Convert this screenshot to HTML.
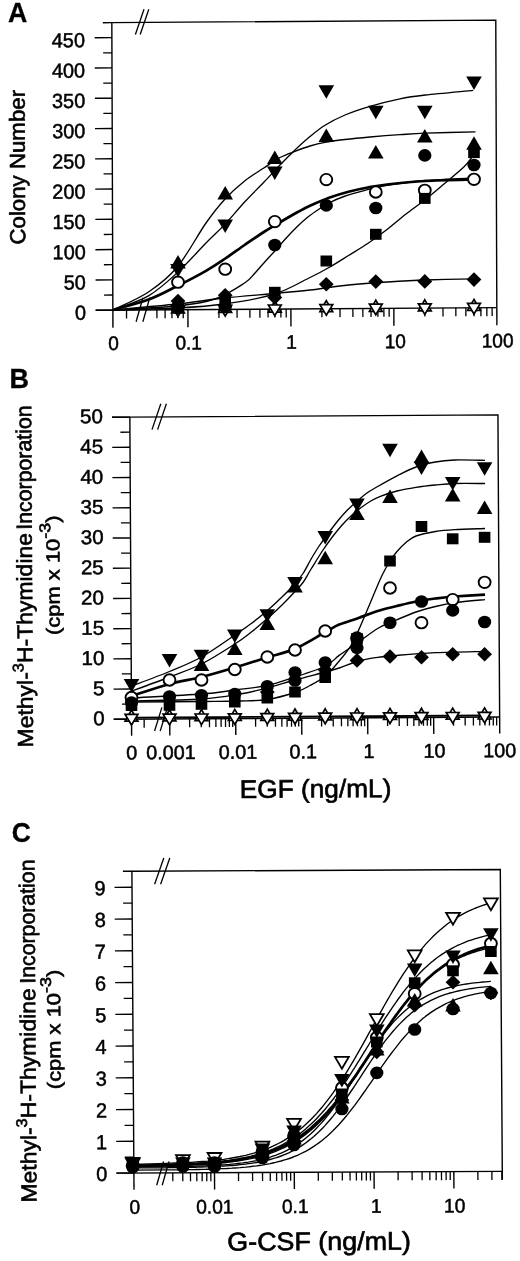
<!DOCTYPE html>
<html><head><meta charset="utf-8"><title>Figure</title>
<style>html,body{margin:0;padding:0;background:#fff}svg{display:block;filter:grayscale(1)}</style></head>
<body>
<svg width="520" height="1261" viewBox="0 0 520 1261" font-family='"Liberation Sans", sans-serif' fill="#000">
<rect width="520" height="1261" fill="#fff"/>
<g transform="matrix(1,-0.00660,0.00360,1,-0.598,2.013)">
<path d="M112.35,308.85V21.35H496.3V308.85" fill="none" stroke="#000" stroke-width="1.4"/>
<line x1="95.15" y1="308.85" x2="496.30" y2="308.85" stroke="#000" stroke-width="1.4"/>
<line x1="103.35" y1="21.35" x2="112.35" y2="21.35" stroke="#000" stroke-width="1.4"/>
<line x1="95.15" y1="308.85" x2="112.35" y2="308.85" stroke="#000" stroke-width="1.4"/>
<text transform="translate(85.40,318.25) scale(0.975,1)" font-size="20.4" text-anchor="end" font-weight="normal" stroke="#000" stroke-width="0.5">0</text>
<line x1="103.55" y1="293.71" x2="112.35" y2="293.71" stroke="#000" stroke-width="1.3"/>
<line x1="95.15" y1="278.58" x2="112.35" y2="278.58" stroke="#000" stroke-width="1.4"/>
<text transform="translate(85.40,287.98) scale(0.975,1)" font-size="20.4" text-anchor="end" font-weight="normal" stroke="#000" stroke-width="0.5">50</text>
<line x1="103.55" y1="263.44" x2="112.35" y2="263.44" stroke="#000" stroke-width="1.3"/>
<line x1="95.15" y1="248.30" x2="112.35" y2="248.30" stroke="#000" stroke-width="1.4"/>
<text transform="translate(85.40,257.70) scale(0.975,1)" font-size="20.4" text-anchor="end" font-weight="normal" stroke="#000" stroke-width="0.5">100</text>
<line x1="103.55" y1="233.16" x2="112.35" y2="233.16" stroke="#000" stroke-width="1.3"/>
<line x1="95.15" y1="218.03" x2="112.35" y2="218.03" stroke="#000" stroke-width="1.4"/>
<text transform="translate(85.40,227.43) scale(0.975,1)" font-size="20.4" text-anchor="end" font-weight="normal" stroke="#000" stroke-width="0.5">150</text>
<line x1="103.55" y1="202.89" x2="112.35" y2="202.89" stroke="#000" stroke-width="1.3"/>
<line x1="95.15" y1="187.75" x2="112.35" y2="187.75" stroke="#000" stroke-width="1.4"/>
<text transform="translate(85.40,197.15) scale(0.975,1)" font-size="20.4" text-anchor="end" font-weight="normal" stroke="#000" stroke-width="0.5">200</text>
<line x1="103.55" y1="172.61" x2="112.35" y2="172.61" stroke="#000" stroke-width="1.3"/>
<line x1="95.15" y1="157.48" x2="112.35" y2="157.48" stroke="#000" stroke-width="1.4"/>
<text transform="translate(85.40,166.88) scale(0.975,1)" font-size="20.4" text-anchor="end" font-weight="normal" stroke="#000" stroke-width="0.5">250</text>
<line x1="103.55" y1="142.34" x2="112.35" y2="142.34" stroke="#000" stroke-width="1.3"/>
<line x1="95.15" y1="127.20" x2="112.35" y2="127.20" stroke="#000" stroke-width="1.4"/>
<text transform="translate(85.40,136.60) scale(0.975,1)" font-size="20.4" text-anchor="end" font-weight="normal" stroke="#000" stroke-width="0.5">300</text>
<line x1="103.55" y1="112.06" x2="112.35" y2="112.06" stroke="#000" stroke-width="1.3"/>
<line x1="95.15" y1="96.93" x2="112.35" y2="96.93" stroke="#000" stroke-width="1.4"/>
<text transform="translate(85.40,106.33) scale(0.975,1)" font-size="20.4" text-anchor="end" font-weight="normal" stroke="#000" stroke-width="0.5">350</text>
<line x1="103.55" y1="81.79" x2="112.35" y2="81.79" stroke="#000" stroke-width="1.3"/>
<line x1="95.15" y1="66.65" x2="112.35" y2="66.65" stroke="#000" stroke-width="1.4"/>
<text transform="translate(85.40,76.05) scale(0.975,1)" font-size="20.4" text-anchor="end" font-weight="normal" stroke="#000" stroke-width="0.5">400</text>
<line x1="103.55" y1="51.51" x2="112.35" y2="51.51" stroke="#000" stroke-width="1.3"/>
<line x1="95.15" y1="36.38" x2="112.35" y2="36.38" stroke="#000" stroke-width="1.4"/>
<text transform="translate(85.40,45.77) scale(0.975,1)" font-size="20.4" text-anchor="end" font-weight="normal" stroke="#000" stroke-width="0.5">450</text>
<text transform="translate(24.90,165.40) rotate(-90) scale(1.0216,1)" font-size="21.8" text-anchor="middle" stroke="#000" stroke-width="0.6">Colony Number</text>
<line x1="112.35" y1="308.85" x2="112.35" y2="326.45" stroke="#000" stroke-width="1.4"/>
<line x1="126.00" y1="308.85" x2="126.00" y2="317.35" stroke="#000" stroke-width="1.3"/>
<line x1="156.40" y1="308.85" x2="156.40" y2="317.35" stroke="#000" stroke-width="1.3"/>
<line x1="164.56" y1="308.85" x2="164.56" y2="317.35" stroke="#000" stroke-width="1.3"/>
<line x1="171.45" y1="308.85" x2="171.45" y2="317.35" stroke="#000" stroke-width="1.3"/>
<line x1="177.42" y1="308.85" x2="177.42" y2="317.35" stroke="#000" stroke-width="1.3"/>
<line x1="182.69" y1="308.85" x2="182.69" y2="317.35" stroke="#000" stroke-width="1.3"/>
<line x1="187.40" y1="308.85" x2="187.40" y2="326.45" stroke="#000" stroke-width="1.4"/>
<line x1="218.40" y1="308.85" x2="218.40" y2="317.35" stroke="#000" stroke-width="1.3"/>
<line x1="236.53" y1="308.85" x2="236.53" y2="317.35" stroke="#000" stroke-width="1.3"/>
<line x1="249.39" y1="308.85" x2="249.39" y2="317.35" stroke="#000" stroke-width="1.3"/>
<line x1="259.37" y1="308.85" x2="259.37" y2="317.35" stroke="#000" stroke-width="1.3"/>
<line x1="267.53" y1="308.85" x2="267.53" y2="317.35" stroke="#000" stroke-width="1.3"/>
<line x1="274.42" y1="308.85" x2="274.42" y2="317.35" stroke="#000" stroke-width="1.3"/>
<line x1="280.39" y1="308.85" x2="280.39" y2="317.35" stroke="#000" stroke-width="1.3"/>
<line x1="285.66" y1="308.85" x2="285.66" y2="317.35" stroke="#000" stroke-width="1.3"/>
<line x1="290.37" y1="308.85" x2="290.37" y2="326.45" stroke="#000" stroke-width="1.4"/>
<line x1="321.37" y1="308.85" x2="321.37" y2="317.35" stroke="#000" stroke-width="1.3"/>
<line x1="339.50" y1="308.85" x2="339.50" y2="317.35" stroke="#000" stroke-width="1.3"/>
<line x1="352.36" y1="308.85" x2="352.36" y2="317.35" stroke="#000" stroke-width="1.3"/>
<line x1="362.34" y1="308.85" x2="362.34" y2="317.35" stroke="#000" stroke-width="1.3"/>
<line x1="370.50" y1="308.85" x2="370.50" y2="317.35" stroke="#000" stroke-width="1.3"/>
<line x1="377.39" y1="308.85" x2="377.39" y2="317.35" stroke="#000" stroke-width="1.3"/>
<line x1="383.36" y1="308.85" x2="383.36" y2="317.35" stroke="#000" stroke-width="1.3"/>
<line x1="388.63" y1="308.85" x2="388.63" y2="317.35" stroke="#000" stroke-width="1.3"/>
<line x1="393.34" y1="308.85" x2="393.34" y2="326.45" stroke="#000" stroke-width="1.4"/>
<line x1="424.34" y1="308.85" x2="424.34" y2="317.35" stroke="#000" stroke-width="1.3"/>
<line x1="442.47" y1="308.85" x2="442.47" y2="317.35" stroke="#000" stroke-width="1.3"/>
<line x1="455.33" y1="308.85" x2="455.33" y2="317.35" stroke="#000" stroke-width="1.3"/>
<line x1="465.31" y1="308.85" x2="465.31" y2="317.35" stroke="#000" stroke-width="1.3"/>
<line x1="473.47" y1="308.85" x2="473.47" y2="317.35" stroke="#000" stroke-width="1.3"/>
<line x1="480.36" y1="308.85" x2="480.36" y2="317.35" stroke="#000" stroke-width="1.3"/>
<line x1="486.33" y1="308.85" x2="486.33" y2="317.35" stroke="#000" stroke-width="1.3"/>
<line x1="491.60" y1="308.85" x2="491.60" y2="317.35" stroke="#000" stroke-width="1.3"/>
<line x1="496.31" y1="308.85" x2="496.31" y2="326.45" stroke="#000" stroke-width="1.4"/>
<text transform="translate(113.00,348.65) scale(0.98,1)" font-size="19.5" text-anchor="middle" font-weight="normal" stroke="#000" stroke-width="0.5">0</text>
<text transform="translate(188.00,348.65) scale(0.98,1)" font-size="19.5" text-anchor="middle" font-weight="normal" stroke="#000" stroke-width="0.5">0.1</text>
<text transform="translate(290.80,348.65) scale(0.98,1)" font-size="19.5" text-anchor="middle" font-weight="normal" stroke="#000" stroke-width="0.5">1</text>
<text transform="translate(394.60,348.65) scale(0.98,1)" font-size="19.5" text-anchor="middle" font-weight="normal" stroke="#000" stroke-width="0.5">10</text>
<text transform="translate(497.00,348.65) scale(0.98,1)" font-size="19.5" text-anchor="middle" font-weight="normal" stroke="#000" stroke-width="0.5">100</text>
</g>
<text transform="translate(8.10,21.70) scale(0.99,1)" font-size="27" text-anchor="start" font-weight="bold" stroke="#000" stroke-width="0.3">A</text>
<line x1="136.10" y1="321.70" x2="142.90" y2="297.70" stroke="#000" stroke-width="1.3"/>
<line x1="142.90" y1="321.70" x2="149.70" y2="297.70" stroke="#000" stroke-width="1.3"/>
<line x1="135.40" y1="34.50" x2="144.00" y2="9.20" stroke="#000" stroke-width="1.3"/>
<line x1="140.20" y1="34.50" x2="148.80" y2="9.20" stroke="#000" stroke-width="1.3"/>
<path d="M113.0,310.0C118.9,307.0 137.8,299.2 148.5,292.0C159.2,284.8 167.7,278.5 177.3,267.0C186.9,255.5 198.1,234.2 206.0,223.0C213.9,211.8 218.2,206.5 224.6,199.5C231.0,192.5 238.1,186.2 244.6,181.0C251.1,175.8 257.9,171.9 263.8,168.0C269.7,164.1 274.8,160.3 280.0,157.5C285.2,154.7 290.0,153.2 295.0,151.3C300.0,149.4 305.0,147.5 310.0,146.0C315.0,144.5 319.2,143.4 325.0,142.3C330.8,141.2 337.5,140.4 345.0,139.5C352.5,138.6 360.8,137.8 370.0,137.0C379.2,136.2 390.8,135.3 400.0,134.7C409.2,134.1 412.8,133.7 425.4,133.2C438.0,132.7 467.1,132.0 475.5,131.8" fill="none" stroke="#000" stroke-width="1.35" stroke-linecap="butt" stroke-linejoin="round"/>
<path d="M113.0,310.0C118.9,307.6 137.8,302.0 148.5,295.8C159.2,289.6 167.7,281.5 177.3,272.7C186.9,263.9 198.1,251.0 206.0,243.0C213.9,235.0 218.2,231.4 224.6,224.6C231.0,217.8 238.1,209.1 244.6,202.0C251.1,194.9 257.9,188.5 263.8,182.3C269.7,176.1 274.8,170.4 280.0,165.0C285.2,159.6 290.0,154.8 295.0,150.0C300.0,145.2 305.0,140.6 310.0,136.5C315.0,132.4 319.2,128.8 325.0,125.2C330.8,121.6 337.5,118.2 345.0,115.0C352.5,111.8 360.8,109.0 370.0,106.3C379.2,103.6 390.8,100.7 400.0,98.8C409.2,96.9 413.2,96.4 425.4,95.0C437.6,93.6 465.2,91.2 473.2,90.4" fill="none" stroke="#000" stroke-width="1.35" stroke-linecap="butt" stroke-linejoin="round"/>
<path d="M113.0,310.0C118.9,308.3 137.8,303.6 148.5,299.6C159.2,295.6 167.7,290.8 177.3,286.0C186.9,281.2 198.1,275.3 206.0,270.8C213.9,266.3 218.2,263.3 224.6,259.0C231.0,254.7 238.1,249.5 244.6,245.0C251.1,240.5 257.4,236.1 263.8,232.0C270.2,227.9 277.4,223.8 283.0,220.5C288.6,217.2 292.8,214.8 297.3,212.3C301.8,209.9 304.7,208.2 310.0,205.8C315.3,203.4 322.6,200.1 329.0,197.8C335.4,195.5 342.1,193.5 348.5,191.8C354.9,190.1 361.3,188.7 367.7,187.5C374.1,186.3 377.4,185.6 387.0,184.5C396.6,183.4 410.9,181.8 425.4,181.0C439.9,180.2 465.9,179.8 474.0,179.6" fill="none" stroke="#000" stroke-width="2.7" stroke-linecap="butt" stroke-linejoin="round"/>
<path d="M113.0,310.0C123.7,309.3 160.0,307.8 177.0,306.0C194.0,304.2 203.7,302.8 215.0,299.0C226.3,295.2 237.9,287.3 244.6,283.0C251.3,278.7 251.5,276.7 255.0,273.0C258.5,269.3 262.1,264.9 265.6,261.0C269.1,257.1 272.7,253.4 276.2,249.5C279.7,245.6 283.2,241.3 286.7,237.5C290.2,233.7 293.8,229.9 297.3,226.5C300.8,223.1 304.4,219.8 307.9,217.0C311.4,214.2 315.0,211.8 318.5,209.5C322.0,207.2 324.8,205.2 329.0,203.0C333.2,200.8 337.9,198.6 343.9,196.5C349.9,194.4 357.8,192.2 365.0,190.3C372.2,188.4 376.9,186.9 387.0,185.3C397.1,183.7 410.9,181.7 425.4,180.5C439.9,179.3 465.9,178.4 474.0,178.0" fill="none" stroke="#000" stroke-width="1.35" stroke-linecap="butt" stroke-linejoin="round"/>
<path d="M113.0,310.0C123.7,309.7 158.4,309.0 177.0,308.0C195.6,307.0 208.3,306.3 224.6,304.0C240.9,301.7 260.4,298.4 274.6,294.0C288.8,289.6 300.9,281.9 310.0,277.5C319.1,273.1 322.6,271.2 329.0,267.5C335.4,263.8 342.1,259.5 348.5,255.5C354.9,251.5 361.3,247.8 367.7,243.5C374.1,239.2 380.6,234.4 387.0,229.5C393.4,224.6 399.6,219.0 406.0,214.0C412.4,209.0 419.0,204.6 425.4,199.5C431.8,194.4 438.2,188.9 444.6,183.5C451.0,178.1 459.2,171.4 463.8,167.0C468.4,162.6 470.6,158.7 472.0,157.0" fill="none" stroke="#000" stroke-width="1.35" stroke-linecap="butt" stroke-linejoin="round"/>
<path d="M113.0,310.0C123.7,309.0 158.4,306.0 177.0,304.0C195.6,302.0 208.3,299.8 224.6,298.0C240.9,296.2 260.4,294.8 274.6,293.5C288.8,292.2 297.7,291.4 310.0,290.0C322.3,288.6 335.7,286.3 348.5,285.0C361.3,283.7 374.2,282.8 387.0,282.0C399.8,281.2 410.9,280.5 425.4,280.0C439.9,279.5 465.9,279.0 474.0,278.8" fill="none" stroke="#000" stroke-width="1.35" stroke-linecap="butt" stroke-linejoin="round"/>
<path d="M178.0,301.8L184.4,312.9L171.6,312.9Z" fill="#fff" stroke="#000" stroke-width="1.7" stroke-linejoin="miter"/>
<path d="M178.0,316.4L184.4,305.8L171.6,305.8Z" fill="#fff" stroke="#000" stroke-width="1.7" stroke-linejoin="miter"/>
<path d="M225.2,301.4L231.6,312.5L218.8,312.5Z" fill="#fff" stroke="#000" stroke-width="1.7" stroke-linejoin="miter"/>
<path d="M225.2,316.0L231.6,305.4L218.8,305.4Z" fill="#fff" stroke="#000" stroke-width="1.7" stroke-linejoin="miter"/>
<path d="M274.8,301.0L281.2,312.1L268.4,312.1Z" fill="#fff" stroke="#000" stroke-width="1.7" stroke-linejoin="miter"/>
<path d="M274.8,315.6L281.2,305.0L268.4,305.0Z" fill="#fff" stroke="#000" stroke-width="1.7" stroke-linejoin="miter"/>
<path d="M326.3,300.6L332.7,311.7L319.9,311.7Z" fill="#fff" stroke="#000" stroke-width="1.7" stroke-linejoin="miter"/>
<path d="M326.3,315.2L332.7,304.6L319.9,304.6Z" fill="#fff" stroke="#000" stroke-width="1.7" stroke-linejoin="miter"/>
<path d="M375.8,300.2L382.2,311.3L369.4,311.3Z" fill="#fff" stroke="#000" stroke-width="1.7" stroke-linejoin="miter"/>
<path d="M375.8,314.8L382.2,304.2L369.4,304.2Z" fill="#fff" stroke="#000" stroke-width="1.7" stroke-linejoin="miter"/>
<path d="M424.8,299.8L431.2,310.9L418.4,310.9Z" fill="#fff" stroke="#000" stroke-width="1.7" stroke-linejoin="miter"/>
<path d="M424.8,314.4L431.2,303.8L418.4,303.8Z" fill="#fff" stroke="#000" stroke-width="1.7" stroke-linejoin="miter"/>
<path d="M474.0,299.4L480.4,310.5L467.6,310.5Z" fill="#fff" stroke="#000" stroke-width="1.7" stroke-linejoin="miter"/>
<path d="M474.0,314.0L480.4,303.4L467.6,303.4Z" fill="#fff" stroke="#000" stroke-width="1.7" stroke-linejoin="miter"/>
<ellipse cx="178.0" cy="282.2" rx="5.95" ry="5.7" fill="#fff" stroke="#000" stroke-width="1.9"/>
<ellipse cx="225.2" cy="269.2" rx="5.95" ry="5.7" fill="#fff" stroke="#000" stroke-width="1.9"/>
<ellipse cx="274.8" cy="221.6" rx="5.95" ry="5.7" fill="#fff" stroke="#000" stroke-width="1.9"/>
<ellipse cx="326.3" cy="179.6" rx="5.95" ry="5.7" fill="#fff" stroke="#000" stroke-width="1.9"/>
<ellipse cx="375.8" cy="192.0" rx="5.95" ry="5.7" fill="#fff" stroke="#000" stroke-width="1.9"/>
<ellipse cx="424.8" cy="190.3" rx="5.95" ry="5.7" fill="#fff" stroke="#000" stroke-width="1.9"/>
<ellipse cx="474.0" cy="179.3" rx="5.95" ry="5.7" fill="#fff" stroke="#000" stroke-width="1.9"/>
<path d="M178.0,293.7L185.4,301.0L178.0,308.3L170.6,301.0Z" fill="#000"/>
<path d="M225.2,288.0L232.6,295.3L225.2,302.6L217.8,295.3Z" fill="#000"/>
<path d="M274.8,290.2L282.2,297.5L274.8,304.8L267.4,297.5Z" fill="#000"/>
<path d="M326.3,276.9L333.7,284.2L326.3,291.5L318.9,284.2Z" fill="#000"/>
<path d="M375.8,274.3L383.2,281.6L375.8,288.9L368.4,281.6Z" fill="#000"/>
<path d="M424.8,274.1L432.2,281.4L424.8,288.7L417.4,281.4Z" fill="#000"/>
<path d="M474.0,272.3L481.4,279.6L474.0,286.9L466.6,279.6Z" fill="#000"/>
<rect x="172.2" y="300.0" width="11.6" height="11" fill="#000"/>
<rect x="219.4" y="298.0" width="11.6" height="11" fill="#000"/>
<rect x="269.0" y="286.8" width="11.6" height="11" fill="#000"/>
<rect x="320.5" y="255.5" width="11.6" height="11" fill="#000"/>
<rect x="370.0" y="228.8" width="11.6" height="11" fill="#000"/>
<rect x="419.0" y="192.9" width="11.6" height="11" fill="#000"/>
<rect x="468.2" y="147.1" width="11.6" height="11" fill="#000"/>
<ellipse cx="178.0" cy="308.0" rx="6.6" ry="6.3" fill="#000"/>
<ellipse cx="225.2" cy="307.0" rx="6.6" ry="6.3" fill="#000"/>
<ellipse cx="274.8" cy="245.0" rx="6.6" ry="6.3" fill="#000"/>
<ellipse cx="326.3" cy="205.4" rx="6.6" ry="6.3" fill="#000"/>
<ellipse cx="375.8" cy="208.0" rx="6.6" ry="6.3" fill="#000"/>
<ellipse cx="424.8" cy="155.4" rx="6.6" ry="6.3" fill="#000"/>
<ellipse cx="474.0" cy="165.0" rx="6.6" ry="6.3" fill="#000"/>
<path d="M178.0,255.1L185.8,268.6L170.2,268.6Z" fill="#000"/>
<path d="M225.2,186.1L233.0,199.6L217.4,199.6Z" fill="#000"/>
<path d="M274.8,150.4L282.6,163.9L267.0,163.9Z" fill="#000"/>
<path d="M326.3,128.5L334.1,142.0L318.5,142.0Z" fill="#000"/>
<path d="M375.8,145.1L383.6,158.6L368.0,158.6Z" fill="#000"/>
<path d="M424.8,128.9L432.6,142.4L417.0,142.4Z" fill="#000"/>
<path d="M474.0,136.3L481.8,149.8L466.2,149.8Z" fill="#000"/>
<path d="M178.0,277.4L185.8,263.9L170.2,263.9Z" fill="#000"/>
<path d="M225.2,232.9L233.0,219.4L217.4,219.4Z" fill="#000"/>
<path d="M274.8,179.9L282.6,166.4L267.0,166.4Z" fill="#000"/>
<path d="M326.3,98.8L334.1,85.3L318.5,85.3Z" fill="#000"/>
<path d="M375.8,119.2L383.6,105.7L368.0,105.7Z" fill="#000"/>
<path d="M424.8,119.2L432.6,105.7L417.0,105.7Z" fill="#000"/>
<path d="M474.0,89.9L481.8,76.4L466.2,76.4Z" fill="#000"/>
<g transform="matrix(1,-0.00600,0.00560,1,-3.181,1.890)">
<path d="M130.7,718.1V416.0H498.8V718.1" fill="none" stroke="#000" stroke-width="1.4"/>
<line x1="112.90" y1="718.10" x2="498.80" y2="718.10" stroke="#000" stroke-width="1.4"/>
<line x1="112.90" y1="416.00" x2="130.70" y2="416.00" stroke="#000" stroke-width="1.4"/>
<line x1="112.90" y1="718.10" x2="130.70" y2="718.10" stroke="#000" stroke-width="1.4"/>
<text transform="translate(103.80,724.00) scale(1.03,1)" font-size="20.0" text-anchor="end" font-weight="normal" stroke="#000" stroke-width="0.5">0</text>
<line x1="121.20" y1="703.00" x2="130.70" y2="703.00" stroke="#000" stroke-width="1.3"/>
<line x1="112.90" y1="687.89" x2="130.70" y2="687.89" stroke="#000" stroke-width="1.4"/>
<text transform="translate(103.80,693.79) scale(1.03,1)" font-size="20.0" text-anchor="end" font-weight="normal" stroke="#000" stroke-width="0.5">5</text>
<line x1="121.20" y1="672.79" x2="130.70" y2="672.79" stroke="#000" stroke-width="1.3"/>
<line x1="112.90" y1="657.68" x2="130.70" y2="657.68" stroke="#000" stroke-width="1.4"/>
<text transform="translate(103.80,663.58) scale(1.03,1)" font-size="20.0" text-anchor="end" font-weight="normal" stroke="#000" stroke-width="0.5">10</text>
<line x1="121.20" y1="642.58" x2="130.70" y2="642.58" stroke="#000" stroke-width="1.3"/>
<line x1="112.90" y1="627.47" x2="130.70" y2="627.47" stroke="#000" stroke-width="1.4"/>
<text transform="translate(103.80,633.37) scale(1.03,1)" font-size="20.0" text-anchor="end" font-weight="normal" stroke="#000" stroke-width="0.5">15</text>
<line x1="121.20" y1="612.37" x2="130.70" y2="612.37" stroke="#000" stroke-width="1.3"/>
<line x1="112.90" y1="597.26" x2="130.70" y2="597.26" stroke="#000" stroke-width="1.4"/>
<text transform="translate(103.80,603.16) scale(1.03,1)" font-size="20.0" text-anchor="end" font-weight="normal" stroke="#000" stroke-width="0.5">20</text>
<line x1="121.20" y1="582.15" x2="130.70" y2="582.15" stroke="#000" stroke-width="1.3"/>
<line x1="112.90" y1="567.05" x2="130.70" y2="567.05" stroke="#000" stroke-width="1.4"/>
<text transform="translate(103.80,572.95) scale(1.03,1)" font-size="20.0" text-anchor="end" font-weight="normal" stroke="#000" stroke-width="0.5">25</text>
<line x1="121.20" y1="551.95" x2="130.70" y2="551.95" stroke="#000" stroke-width="1.3"/>
<line x1="112.90" y1="536.84" x2="130.70" y2="536.84" stroke="#000" stroke-width="1.4"/>
<text transform="translate(103.80,542.74) scale(1.03,1)" font-size="20.0" text-anchor="end" font-weight="normal" stroke="#000" stroke-width="0.5">30</text>
<line x1="121.20" y1="521.74" x2="130.70" y2="521.74" stroke="#000" stroke-width="1.3"/>
<line x1="112.90" y1="506.63" x2="130.70" y2="506.63" stroke="#000" stroke-width="1.4"/>
<text transform="translate(103.80,512.53) scale(1.03,1)" font-size="20.0" text-anchor="end" font-weight="normal" stroke="#000" stroke-width="0.5">35</text>
<line x1="121.20" y1="491.53" x2="130.70" y2="491.53" stroke="#000" stroke-width="1.3"/>
<line x1="112.90" y1="476.42" x2="130.70" y2="476.42" stroke="#000" stroke-width="1.4"/>
<text transform="translate(103.80,482.32) scale(1.03,1)" font-size="20.0" text-anchor="end" font-weight="normal" stroke="#000" stroke-width="0.5">40</text>
<line x1="121.20" y1="461.31" x2="130.70" y2="461.31" stroke="#000" stroke-width="1.3"/>
<line x1="112.90" y1="446.21" x2="130.70" y2="446.21" stroke="#000" stroke-width="1.4"/>
<text transform="translate(103.80,452.11) scale(1.03,1)" font-size="20.0" text-anchor="end" font-weight="normal" stroke="#000" stroke-width="0.5">45</text>
<line x1="121.20" y1="431.10" x2="130.70" y2="431.10" stroke="#000" stroke-width="1.3"/>
<line x1="112.90" y1="416.00" x2="130.70" y2="416.00" stroke="#000" stroke-width="1.4"/>
<text transform="translate(103.80,421.90) scale(1.03,1)" font-size="20.0" text-anchor="end" font-weight="normal" stroke="#000" stroke-width="0.5">50</text>
<text transform="translate(32.00,745.70) rotate(-90) scale(1.053,1)" font-size="21.8" text-anchor="start" stroke="#000" stroke-width="0.6">Methyl-<tspan dy="-9" font-size="15.5">3</tspan><tspan dy="9" font-size="0.1"> </tspan>H-Thymidine</text>
<text transform="translate(32.00,403.70) rotate(-90) scale(0.977,1)" font-size="21.8" text-anchor="end" stroke="#000" stroke-width="0.6">Incorporation</text>
<text transform="translate(59.50,573.70) rotate(-90) scale(1.154,1)" font-size="19" text-anchor="middle" stroke="#000" stroke-width="0.6">(cpm x 10<tspan dy="-9" font-size="15.5">-3</tspan><tspan dy="9" font-size="0.1"> </tspan>)</text>
<line x1="130.70" y1="718.10" x2="130.70" y2="734.60" stroke="#000" stroke-width="1.4"/>
<line x1="143.30" y1="718.10" x2="143.30" y2="726.70" stroke="#000" stroke-width="1.3"/>
<line x1="168.90" y1="718.10" x2="168.90" y2="734.60" stroke="#000" stroke-width="1.4"/>
<line x1="188.76" y1="718.10" x2="188.76" y2="726.50" stroke="#000" stroke-width="1.3"/>
<line x1="200.38" y1="718.10" x2="200.38" y2="726.50" stroke="#000" stroke-width="1.3"/>
<line x1="208.62" y1="718.10" x2="208.62" y2="726.50" stroke="#000" stroke-width="1.3"/>
<line x1="215.02" y1="718.10" x2="215.02" y2="726.50" stroke="#000" stroke-width="1.3"/>
<line x1="220.24" y1="718.10" x2="220.24" y2="726.50" stroke="#000" stroke-width="1.3"/>
<line x1="224.66" y1="718.10" x2="224.66" y2="726.50" stroke="#000" stroke-width="1.3"/>
<line x1="228.49" y1="718.10" x2="228.49" y2="726.50" stroke="#000" stroke-width="1.3"/>
<line x1="231.86" y1="718.10" x2="231.86" y2="726.50" stroke="#000" stroke-width="1.3"/>
<line x1="234.88" y1="718.10" x2="234.88" y2="734.60" stroke="#000" stroke-width="1.4"/>
<line x1="254.74" y1="718.10" x2="254.74" y2="726.50" stroke="#000" stroke-width="1.3"/>
<line x1="266.36" y1="718.10" x2="266.36" y2="726.50" stroke="#000" stroke-width="1.3"/>
<line x1="274.60" y1="718.10" x2="274.60" y2="726.50" stroke="#000" stroke-width="1.3"/>
<line x1="281.00" y1="718.10" x2="281.00" y2="726.50" stroke="#000" stroke-width="1.3"/>
<line x1="286.22" y1="718.10" x2="286.22" y2="726.50" stroke="#000" stroke-width="1.3"/>
<line x1="290.64" y1="718.10" x2="290.64" y2="726.50" stroke="#000" stroke-width="1.3"/>
<line x1="294.47" y1="718.10" x2="294.47" y2="726.50" stroke="#000" stroke-width="1.3"/>
<line x1="297.84" y1="718.10" x2="297.84" y2="726.50" stroke="#000" stroke-width="1.3"/>
<line x1="300.86" y1="718.10" x2="300.86" y2="734.60" stroke="#000" stroke-width="1.4"/>
<line x1="320.72" y1="718.10" x2="320.72" y2="726.50" stroke="#000" stroke-width="1.3"/>
<line x1="332.34" y1="718.10" x2="332.34" y2="726.50" stroke="#000" stroke-width="1.3"/>
<line x1="340.58" y1="718.10" x2="340.58" y2="726.50" stroke="#000" stroke-width="1.3"/>
<line x1="346.98" y1="718.10" x2="346.98" y2="726.50" stroke="#000" stroke-width="1.3"/>
<line x1="352.20" y1="718.10" x2="352.20" y2="726.50" stroke="#000" stroke-width="1.3"/>
<line x1="356.62" y1="718.10" x2="356.62" y2="726.50" stroke="#000" stroke-width="1.3"/>
<line x1="360.45" y1="718.10" x2="360.45" y2="726.50" stroke="#000" stroke-width="1.3"/>
<line x1="363.82" y1="718.10" x2="363.82" y2="726.50" stroke="#000" stroke-width="1.3"/>
<line x1="366.84" y1="718.10" x2="366.84" y2="734.60" stroke="#000" stroke-width="1.4"/>
<line x1="386.70" y1="718.10" x2="386.70" y2="726.50" stroke="#000" stroke-width="1.3"/>
<line x1="398.32" y1="718.10" x2="398.32" y2="726.50" stroke="#000" stroke-width="1.3"/>
<line x1="406.56" y1="718.10" x2="406.56" y2="726.50" stroke="#000" stroke-width="1.3"/>
<line x1="412.96" y1="718.10" x2="412.96" y2="726.50" stroke="#000" stroke-width="1.3"/>
<line x1="418.18" y1="718.10" x2="418.18" y2="726.50" stroke="#000" stroke-width="1.3"/>
<line x1="422.60" y1="718.10" x2="422.60" y2="726.50" stroke="#000" stroke-width="1.3"/>
<line x1="426.43" y1="718.10" x2="426.43" y2="726.50" stroke="#000" stroke-width="1.3"/>
<line x1="429.80" y1="718.10" x2="429.80" y2="726.50" stroke="#000" stroke-width="1.3"/>
<line x1="432.82" y1="718.10" x2="432.82" y2="734.60" stroke="#000" stroke-width="1.4"/>
<line x1="452.68" y1="718.10" x2="452.68" y2="726.50" stroke="#000" stroke-width="1.3"/>
<line x1="464.30" y1="718.10" x2="464.30" y2="726.50" stroke="#000" stroke-width="1.3"/>
<line x1="472.54" y1="718.10" x2="472.54" y2="726.50" stroke="#000" stroke-width="1.3"/>
<line x1="478.94" y1="718.10" x2="478.94" y2="726.50" stroke="#000" stroke-width="1.3"/>
<line x1="484.16" y1="718.10" x2="484.16" y2="726.50" stroke="#000" stroke-width="1.3"/>
<line x1="488.58" y1="718.10" x2="488.58" y2="726.50" stroke="#000" stroke-width="1.3"/>
<line x1="492.41" y1="718.10" x2="492.41" y2="726.50" stroke="#000" stroke-width="1.3"/>
<line x1="495.78" y1="718.10" x2="495.78" y2="726.50" stroke="#000" stroke-width="1.3"/>
<line x1="498.80" y1="718.10" x2="498.80" y2="734.60" stroke="#000" stroke-width="1.4"/>
<line x1="130.70" y1="716.55" x2="484.50" y2="716.55" stroke="#000" stroke-width="1.9"/>
<text transform="translate(130.80,758.30) scale(1.0,1)" font-size="19.8" text-anchor="middle" font-weight="normal" stroke="#000" stroke-width="0.5">0</text>
<text transform="translate(170.00,758.30) scale(1.0,1)" font-size="19.8" text-anchor="middle" font-weight="normal" stroke="#000" stroke-width="0.5">0.001</text>
<text transform="translate(237.00,758.30) scale(1.0,1)" font-size="19.8" text-anchor="middle" font-weight="normal" stroke="#000" stroke-width="0.5">0.01</text>
<text transform="translate(302.20,758.30) scale(1.0,1)" font-size="19.8" text-anchor="middle" font-weight="normal" stroke="#000" stroke-width="0.5">0.1</text>
<text transform="translate(367.90,758.30) scale(1.0,1)" font-size="19.8" text-anchor="middle" font-weight="normal" stroke="#000" stroke-width="0.5">1</text>
<text transform="translate(433.50,758.30) scale(1.0,1)" font-size="19.8" text-anchor="middle" font-weight="normal" stroke="#000" stroke-width="0.5">10</text>
<text transform="translate(498.80,758.30) scale(1.0,1)" font-size="19.8" text-anchor="middle" font-weight="normal" stroke="#000" stroke-width="0.5">100</text>
<text transform="translate(314.30,797.50) scale(1.03,1)" font-size="25.5" text-anchor="middle" font-weight="normal" stroke="#000" stroke-width="0.65">EGF (ng/mL)</text>
</g>
<text transform="translate(9.60,387.70) scale(1.0,1)" font-size="27" text-anchor="start" font-weight="bold" stroke="#000" stroke-width="0.3">B</text>
<line x1="154.60" y1="731.00" x2="161.90" y2="707.40" stroke="#000" stroke-width="1.3"/>
<line x1="160.20" y1="731.00" x2="167.50" y2="707.40" stroke="#000" stroke-width="1.3"/>
<line x1="152.00" y1="429.60" x2="160.80" y2="403.80" stroke="#000" stroke-width="1.3"/>
<line x1="157.60" y1="429.60" x2="166.40" y2="403.80" stroke="#000" stroke-width="1.3"/>
<path d="M131.7,686.0C138.0,683.6 157.9,676.3 169.5,671.5C181.1,666.7 190.6,663.1 201.5,657.0C212.4,650.9 226.4,640.7 234.8,635.0C243.2,629.3 246.6,627.1 252.0,623.0C257.4,618.9 262.4,614.8 267.4,610.5C272.4,606.2 277.5,601.4 282.0,597.0C286.5,592.6 291.0,588.1 294.5,584.2C298.0,580.3 300.3,577.6 303.0,573.5C305.7,569.4 308.2,564.0 310.8,559.5C313.4,555.0 315.9,550.9 318.8,546.5C321.8,542.1 325.3,537.3 328.5,533.0C331.7,528.7 334.9,524.4 338.1,520.5C341.3,516.6 344.5,513.0 347.7,509.8C350.9,506.6 354.1,503.8 357.3,501.0C360.5,498.2 363.5,495.4 366.9,493.0C370.3,490.6 372.7,489.4 377.7,486.5C382.7,483.6 390.6,479.1 397.0,475.8C403.4,472.6 409.6,469.3 416.0,467.0C422.4,464.7 429.0,463.2 435.4,462.0C441.8,460.8 446.3,460.3 454.6,460.0C462.9,459.7 479.9,460.3 485.0,460.4" fill="none" stroke="#000" stroke-width="1.35" stroke-linecap="butt" stroke-linejoin="round"/>
<path d="M131.7,691.0C138.0,688.7 157.9,681.5 169.5,677.0C181.1,672.5 190.6,669.5 201.5,664.0C212.4,658.5 226.4,649.4 234.8,644.0C243.2,638.6 246.6,635.7 252.0,631.5C257.4,627.3 262.4,623.0 267.4,618.6C272.4,614.2 277.5,609.4 282.0,605.0C286.5,600.6 291.0,595.8 294.5,592.0C298.0,588.2 300.3,586.2 303.0,582.5C305.7,578.8 307.5,574.8 310.8,569.5C314.1,564.2 319.1,555.9 322.7,550.5C326.3,545.1 329.1,541.2 332.3,537.0C335.5,532.8 338.7,528.8 341.9,525.2C345.1,521.6 348.3,518.5 351.5,515.5C354.7,512.5 358.0,509.9 361.2,507.5C364.4,505.1 367.6,502.9 370.8,501.0C374.0,499.1 376.0,498.0 380.4,496.3C384.8,494.6 391.1,492.5 397.0,491.0C402.9,489.5 409.6,488.3 416.0,487.3C422.4,486.3 429.0,485.6 435.4,485.0C441.8,484.4 446.3,483.8 454.6,483.5C462.9,483.2 479.9,483.5 485.0,483.5" fill="none" stroke="#000" stroke-width="1.35" stroke-linecap="butt" stroke-linejoin="round"/>
<path d="M131.7,696.0C138.0,694.0 157.9,687.2 169.5,684.0C181.1,680.8 190.6,679.8 201.5,677.0C212.4,674.2 223.9,670.8 234.8,667.5C245.7,664.2 257.0,660.6 267.0,657.5C277.0,654.4 285.2,653.0 295.0,648.8C304.8,644.5 318.1,636.0 325.5,632.0C332.9,628.0 333.7,626.9 339.2,624.6C344.7,622.3 352.1,620.3 358.5,618.0C364.9,615.7 371.3,613.0 377.7,611.0C384.1,609.0 390.6,607.6 397.0,606.0C403.4,604.4 409.6,602.8 416.0,601.5C422.4,600.2 429.0,599.3 435.4,598.5C441.8,597.7 446.3,597.1 454.6,596.5C462.9,595.9 479.9,594.9 485.0,594.6" fill="none" stroke="#000" stroke-width="2.7" stroke-linecap="butt" stroke-linejoin="round"/>
<path d="M131.7,698.0C143.3,697.3 184.3,695.3 201.5,694.0C218.7,692.7 223.9,691.4 234.8,690.0C245.7,688.6 257.0,687.7 267.0,685.5C277.0,683.3 285.2,680.2 295.0,677.0C304.8,673.8 318.1,669.6 325.5,666.0C332.9,662.4 333.7,659.4 339.2,655.4C344.7,651.4 352.1,646.5 358.5,642.0C364.9,637.5 372.4,631.7 377.7,628.5C382.9,625.3 383.6,625.5 390.0,622.7C396.4,620.0 408.4,614.7 416.0,612.0C423.6,609.3 429.0,608.0 435.4,606.5C441.8,605.0 446.3,603.9 454.6,602.7C462.9,601.6 479.9,600.1 485.0,599.6" fill="none" stroke="#000" stroke-width="1.35" stroke-linecap="butt" stroke-linejoin="round"/>
<path d="M131.7,702.0C143.3,701.9 183.4,701.7 201.5,701.5C219.6,701.3 229.1,701.3 240.0,701.0C250.9,700.7 257.8,700.9 267.0,699.5C276.2,698.1 287.8,694.8 295.0,692.5C302.2,690.2 304.9,688.2 310.0,685.5C315.1,682.8 320.6,680.1 325.5,676.0C330.4,671.9 335.0,666.0 339.2,661.0C343.4,656.0 347.6,650.9 350.8,645.8C354.0,640.7 355.3,637.4 358.5,630.4C361.7,623.4 366.2,612.5 370.0,603.5C373.8,594.5 378.2,583.6 381.5,576.5C384.8,569.4 387.4,565.2 390.0,561.0C392.6,556.8 394.2,554.7 397.0,551.5C399.8,548.3 403.3,544.6 406.5,542.0C409.7,539.4 411.2,537.8 416.0,536.0C420.8,534.2 429.0,532.6 435.4,531.5C441.8,530.4 446.3,530.1 454.6,529.6C462.9,529.1 479.9,528.7 485.0,528.5" fill="none" stroke="#000" stroke-width="1.35" stroke-linecap="butt" stroke-linejoin="round"/>
<path d="M131.7,701.0C143.3,700.7 183.4,700.2 201.5,699.0C219.6,697.8 229.1,695.8 240.0,694.0C250.9,692.2 257.8,690.3 267.0,688.0C276.2,685.7 285.2,682.7 295.0,680.0C304.8,677.3 318.1,674.0 325.5,672.0C332.9,670.0 333.7,669.8 339.2,668.0C344.7,666.2 352.1,662.8 358.5,661.0C364.9,659.2 371.3,658.2 377.7,657.3C384.1,656.4 387.4,656.2 397.0,655.4C406.6,654.6 420.7,653.4 435.4,652.7C450.1,652.1 476.7,651.7 485.0,651.5" fill="none" stroke="#000" stroke-width="1.35" stroke-linecap="butt" stroke-linejoin="round"/>
<path d="M131.5,710.0L137.9,721.1L125.1,721.1Z" fill="#fff" stroke="#000" stroke-width="1.7" stroke-linejoin="miter"/>
<path d="M131.5,725.0L137.9,714.4L125.1,714.4Z" fill="#fff" stroke="#000" stroke-width="1.7" stroke-linejoin="miter"/>
<path d="M169.5,709.8L175.9,720.9L163.1,720.9Z" fill="#fff" stroke="#000" stroke-width="1.7" stroke-linejoin="miter"/>
<path d="M169.5,724.8L175.9,714.2L163.1,714.2Z" fill="#fff" stroke="#000" stroke-width="1.7" stroke-linejoin="miter"/>
<path d="M201.5,709.6L207.9,720.7L195.1,720.7Z" fill="#fff" stroke="#000" stroke-width="1.7" stroke-linejoin="miter"/>
<path d="M201.5,724.6L207.9,714.0L195.1,714.0Z" fill="#fff" stroke="#000" stroke-width="1.7" stroke-linejoin="miter"/>
<path d="M234.8,709.4L241.2,720.5L228.4,720.5Z" fill="#fff" stroke="#000" stroke-width="1.7" stroke-linejoin="miter"/>
<path d="M234.8,724.4L241.2,713.8L228.4,713.8Z" fill="#fff" stroke="#000" stroke-width="1.7" stroke-linejoin="miter"/>
<path d="M267.3,709.2L273.7,720.3L260.9,720.3Z" fill="#fff" stroke="#000" stroke-width="1.7" stroke-linejoin="miter"/>
<path d="M267.3,724.2L273.7,713.6L260.9,713.6Z" fill="#fff" stroke="#000" stroke-width="1.7" stroke-linejoin="miter"/>
<path d="M295.0,709.0L301.4,720.1L288.6,720.1Z" fill="#fff" stroke="#000" stroke-width="1.7" stroke-linejoin="miter"/>
<path d="M295.0,724.0L301.4,713.4L288.6,713.4Z" fill="#fff" stroke="#000" stroke-width="1.7" stroke-linejoin="miter"/>
<path d="M325.2,708.8L331.6,719.9L318.8,719.9Z" fill="#fff" stroke="#000" stroke-width="1.7" stroke-linejoin="miter"/>
<path d="M325.2,723.8L331.6,713.2L318.8,713.2Z" fill="#fff" stroke="#000" stroke-width="1.7" stroke-linejoin="miter"/>
<path d="M357.0,708.6L363.4,719.7L350.6,719.7Z" fill="#fff" stroke="#000" stroke-width="1.7" stroke-linejoin="miter"/>
<path d="M357.0,723.6L363.4,713.0L350.6,713.0Z" fill="#fff" stroke="#000" stroke-width="1.7" stroke-linejoin="miter"/>
<path d="M390.0,708.4L396.4,719.5L383.6,719.5Z" fill="#fff" stroke="#000" stroke-width="1.7" stroke-linejoin="miter"/>
<path d="M390.0,723.5L396.4,712.9L383.6,712.9Z" fill="#fff" stroke="#000" stroke-width="1.7" stroke-linejoin="miter"/>
<path d="M421.5,708.3L427.9,719.4L415.1,719.4Z" fill="#fff" stroke="#000" stroke-width="1.7" stroke-linejoin="miter"/>
<path d="M421.5,723.3L427.9,712.7L415.1,712.7Z" fill="#fff" stroke="#000" stroke-width="1.7" stroke-linejoin="miter"/>
<path d="M452.7,708.1L459.1,719.2L446.3,719.2Z" fill="#fff" stroke="#000" stroke-width="1.7" stroke-linejoin="miter"/>
<path d="M452.7,723.1L459.1,712.5L446.3,712.5Z" fill="#fff" stroke="#000" stroke-width="1.7" stroke-linejoin="miter"/>
<path d="M484.6,707.9L491.0,719.0L478.2,719.0Z" fill="#fff" stroke="#000" stroke-width="1.7" stroke-linejoin="miter"/>
<path d="M484.6,722.9L491.0,712.3L478.2,712.3Z" fill="#fff" stroke="#000" stroke-width="1.7" stroke-linejoin="miter"/>
<ellipse cx="131.5" cy="697.5" rx="5.95" ry="5.7" fill="#fff" stroke="#000" stroke-width="1.9"/>
<ellipse cx="169.5" cy="680.0" rx="5.95" ry="5.7" fill="#fff" stroke="#000" stroke-width="1.9"/>
<ellipse cx="201.5" cy="680.0" rx="5.95" ry="5.7" fill="#fff" stroke="#000" stroke-width="1.9"/>
<ellipse cx="234.8" cy="669.5" rx="5.95" ry="5.7" fill="#fff" stroke="#000" stroke-width="1.9"/>
<ellipse cx="267.3" cy="657.0" rx="5.95" ry="5.7" fill="#fff" stroke="#000" stroke-width="1.9"/>
<ellipse cx="295.0" cy="650.0" rx="5.95" ry="5.7" fill="#fff" stroke="#000" stroke-width="1.9"/>
<ellipse cx="325.2" cy="631.0" rx="5.95" ry="5.7" fill="#fff" stroke="#000" stroke-width="1.9"/>
<ellipse cx="357.0" cy="638.0" rx="5.95" ry="5.7" fill="#fff" stroke="#000" stroke-width="1.9"/>
<ellipse cx="390.0" cy="588.0" rx="5.95" ry="5.7" fill="#fff" stroke="#000" stroke-width="1.9"/>
<ellipse cx="421.5" cy="622.7" rx="5.95" ry="5.7" fill="#fff" stroke="#000" stroke-width="1.9"/>
<ellipse cx="452.7" cy="599.6" rx="5.95" ry="5.7" fill="#fff" stroke="#000" stroke-width="1.9"/>
<ellipse cx="484.6" cy="582.3" rx="5.95" ry="5.7" fill="#fff" stroke="#000" stroke-width="1.9"/>
<path d="M267.3,684.7L274.7,692.0L267.3,699.3L259.9,692.0Z" fill="#000"/>
<path d="M325.2,662.7L332.6,670.0L325.2,677.3L317.8,670.0Z" fill="#000"/>
<path d="M357.0,653.1L364.4,660.4L357.0,667.7L349.6,660.4Z" fill="#000"/>
<path d="M390.0,649.2L397.4,656.5L390.0,663.8L382.6,656.5Z" fill="#000"/>
<path d="M421.5,650.0L428.9,657.3L421.5,664.6L414.1,657.3Z" fill="#000"/>
<path d="M452.7,646.9L460.1,654.2L452.7,661.5L445.3,654.2Z" fill="#000"/>
<path d="M484.6,646.9L492.0,654.2L484.6,661.5L477.2,654.2Z" fill="#000"/>
<rect x="125.7" y="700.0" width="11.6" height="11" fill="#000"/>
<rect x="163.7" y="699.8" width="11.6" height="11" fill="#000"/>
<rect x="195.7" y="698.8" width="11.6" height="11" fill="#000"/>
<rect x="229.0" y="696.5" width="11.6" height="11" fill="#000"/>
<rect x="261.5" y="692.5" width="11.6" height="11" fill="#000"/>
<rect x="289.2" y="686.5" width="11.6" height="11" fill="#000"/>
<rect x="319.4" y="672.0" width="11.6" height="11" fill="#000"/>
<rect x="351.2" y="633.0" width="11.6" height="11" fill="#000"/>
<rect x="384.2" y="555.5" width="11.6" height="11" fill="#000"/>
<rect x="415.7" y="521.0" width="11.6" height="11" fill="#000"/>
<rect x="446.9" y="533.3" width="11.6" height="11" fill="#000"/>
<rect x="478.8" y="531.8" width="11.6" height="11" fill="#000"/>
<ellipse cx="131.5" cy="702.5" rx="6.6" ry="6.3" fill="#000"/>
<ellipse cx="169.5" cy="696.5" rx="6.6" ry="6.3" fill="#000"/>
<ellipse cx="201.5" cy="695.3" rx="6.6" ry="6.3" fill="#000"/>
<ellipse cx="234.8" cy="694.0" rx="6.6" ry="6.3" fill="#000"/>
<ellipse cx="267.3" cy="686.3" rx="6.6" ry="6.3" fill="#000"/>
<ellipse cx="295.0" cy="672.5" rx="6.6" ry="6.3" fill="#000"/>
<ellipse cx="325.2" cy="662.5" rx="6.6" ry="6.3" fill="#000"/>
<ellipse cx="357.0" cy="647.8" rx="6.6" ry="6.3" fill="#000"/>
<ellipse cx="390.0" cy="622.7" rx="6.6" ry="6.3" fill="#000"/>
<ellipse cx="421.5" cy="601.5" rx="6.6" ry="6.3" fill="#000"/>
<ellipse cx="452.7" cy="610.4" rx="6.6" ry="6.3" fill="#000"/>
<ellipse cx="484.6" cy="622.0" rx="6.6" ry="6.3" fill="#000"/>
<path d="M201.5,657.6L209.3,671.1L193.7,671.1Z" fill="#000"/>
<path d="M234.8,641.6L242.6,655.1L227.0,655.1Z" fill="#000"/>
<path d="M267.3,616.4L275.1,629.9L259.5,629.9Z" fill="#000"/>
<path d="M295.0,579.1L302.8,592.6L287.2,592.6Z" fill="#000"/>
<path d="M325.2,550.8L333.0,564.3L317.4,564.3Z" fill="#000"/>
<path d="M357.0,506.6L364.8,520.1L349.2,520.1Z" fill="#000"/>
<path d="M390.0,489.6L397.8,503.1L382.2,503.1Z" fill="#000"/>
<path d="M421.5,449.6L429.3,463.1L413.7,463.1Z" fill="#000"/>
<path d="M452.7,488.1L460.5,501.6L444.9,501.6Z" fill="#000"/>
<path d="M484.6,500.4L492.4,513.9L476.8,513.9Z" fill="#000"/>
<path d="M131.5,692.4L139.3,678.9L123.7,678.9Z" fill="#000"/>
<path d="M169.5,667.4L177.3,653.9L161.7,653.9Z" fill="#000"/>
<path d="M201.5,663.2L209.3,649.7L193.7,649.7Z" fill="#000"/>
<path d="M234.8,642.9L242.6,629.4L227.0,629.4Z" fill="#000"/>
<path d="M267.3,622.7L275.1,609.2L259.5,609.2Z" fill="#000"/>
<path d="M295.0,590.4L302.8,576.9L287.2,576.9Z" fill="#000"/>
<path d="M325.2,544.5L333.0,531.0L317.4,531.0Z" fill="#000"/>
<path d="M357.0,511.9L364.8,498.4L349.2,498.4Z" fill="#000"/>
<path d="M390.0,457.3L397.8,443.8L382.2,443.8Z" fill="#000"/>
<path d="M421.5,474.9L429.3,461.4L413.7,461.4Z" fill="#000"/>
<path d="M452.7,490.4L460.5,476.9L444.9,476.9Z" fill="#000"/>
<path d="M484.6,475.7L492.4,462.2L476.8,462.2Z" fill="#000"/>
<ellipse cx="295.0" cy="680.5" rx="6.6" ry="6.3" fill="#000"/>
<g transform="matrix(1,-0.00450,0.00660,1,-6.745,1.426)">
<path d="M132.9,1172.2V870.4H501.3V1180.7" fill="none" stroke="#000" stroke-width="1.4"/>
<line x1="115.40" y1="1172.20" x2="501.30" y2="1172.20" stroke="#000" stroke-width="1.4"/>
<line x1="123.90" y1="870.40" x2="132.90" y2="870.40" stroke="#000" stroke-width="1.4"/>
<line x1="115.40" y1="1172.20" x2="132.90" y2="1172.20" stroke="#000" stroke-width="1.4"/>
<text transform="translate(106.40,1180.10) scale(0.98,1)" font-size="20.4" text-anchor="end" font-weight="normal" stroke="#000" stroke-width="0.5">0</text>
<line x1="123.90" y1="1156.33" x2="132.90" y2="1156.33" stroke="#000" stroke-width="1.3"/>
<line x1="115.40" y1="1140.45" x2="132.90" y2="1140.45" stroke="#000" stroke-width="1.4"/>
<text transform="translate(106.40,1148.35) scale(0.98,1)" font-size="20.4" text-anchor="end" font-weight="normal" stroke="#000" stroke-width="0.5">1</text>
<line x1="123.90" y1="1124.58" x2="132.90" y2="1124.58" stroke="#000" stroke-width="1.3"/>
<line x1="115.40" y1="1108.70" x2="132.90" y2="1108.70" stroke="#000" stroke-width="1.4"/>
<text transform="translate(106.40,1116.60) scale(0.98,1)" font-size="20.4" text-anchor="end" font-weight="normal" stroke="#000" stroke-width="0.5">2</text>
<line x1="123.90" y1="1092.83" x2="132.90" y2="1092.83" stroke="#000" stroke-width="1.3"/>
<line x1="115.40" y1="1076.95" x2="132.90" y2="1076.95" stroke="#000" stroke-width="1.4"/>
<text transform="translate(106.40,1084.85) scale(0.98,1)" font-size="20.4" text-anchor="end" font-weight="normal" stroke="#000" stroke-width="0.5">3</text>
<line x1="123.90" y1="1061.08" x2="132.90" y2="1061.08" stroke="#000" stroke-width="1.3"/>
<line x1="115.40" y1="1045.20" x2="132.90" y2="1045.20" stroke="#000" stroke-width="1.4"/>
<text transform="translate(106.40,1053.10) scale(0.98,1)" font-size="20.4" text-anchor="end" font-weight="normal" stroke="#000" stroke-width="0.5">4</text>
<line x1="123.90" y1="1029.33" x2="132.90" y2="1029.33" stroke="#000" stroke-width="1.3"/>
<line x1="115.40" y1="1013.45" x2="132.90" y2="1013.45" stroke="#000" stroke-width="1.4"/>
<text transform="translate(106.40,1021.35) scale(0.98,1)" font-size="20.4" text-anchor="end" font-weight="normal" stroke="#000" stroke-width="0.5">5</text>
<line x1="123.90" y1="997.58" x2="132.90" y2="997.58" stroke="#000" stroke-width="1.3"/>
<line x1="115.40" y1="981.70" x2="132.90" y2="981.70" stroke="#000" stroke-width="1.4"/>
<text transform="translate(106.40,989.60) scale(0.98,1)" font-size="20.4" text-anchor="end" font-weight="normal" stroke="#000" stroke-width="0.5">6</text>
<line x1="123.90" y1="965.83" x2="132.90" y2="965.83" stroke="#000" stroke-width="1.3"/>
<line x1="115.40" y1="949.95" x2="132.90" y2="949.95" stroke="#000" stroke-width="1.4"/>
<text transform="translate(106.40,957.85) scale(0.98,1)" font-size="20.4" text-anchor="end" font-weight="normal" stroke="#000" stroke-width="0.5">7</text>
<line x1="123.90" y1="934.08" x2="132.90" y2="934.08" stroke="#000" stroke-width="1.3"/>
<line x1="115.40" y1="918.20" x2="132.90" y2="918.20" stroke="#000" stroke-width="1.4"/>
<text transform="translate(106.40,926.10) scale(0.98,1)" font-size="20.4" text-anchor="end" font-weight="normal" stroke="#000" stroke-width="0.5">8</text>
<line x1="123.90" y1="902.33" x2="132.90" y2="902.33" stroke="#000" stroke-width="1.3"/>
<line x1="115.40" y1="886.45" x2="132.90" y2="886.45" stroke="#000" stroke-width="1.4"/>
<text transform="translate(106.40,894.35) scale(0.98,1)" font-size="20.4" text-anchor="end" font-weight="normal" stroke="#000" stroke-width="0.5">9</text>
<text transform="translate(35.40,1201.30) rotate(-90) scale(1.053,1)" font-size="21.8" text-anchor="start" stroke="#000" stroke-width="0.6">Methyl-<tspan dy="-9" font-size="15.5">3</tspan><tspan dy="9" font-size="0.1"> </tspan>H-Thymidine</text>
<text transform="translate(35.40,858.20) rotate(-90) scale(0.977,1)" font-size="21.8" text-anchor="end" stroke="#000" stroke-width="0.6">Incorporation</text>
<text transform="translate(60.30,1028.30) rotate(-90) scale(1.154,1)" font-size="19" text-anchor="middle" stroke="#000" stroke-width="0.6">(cpm x 10<tspan dy="-9" font-size="15.5">-3</tspan><tspan dy="9" font-size="0.1"> </tspan>)</text>
<line x1="132.90" y1="1172.20" x2="132.90" y2="1189.00" stroke="#000" stroke-width="1.4"/>
<line x1="171.78" y1="1172.20" x2="171.78" y2="1180.70" stroke="#000" stroke-width="1.3"/>
<line x1="181.75" y1="1172.20" x2="181.75" y2="1180.70" stroke="#000" stroke-width="1.3"/>
<line x1="189.48" y1="1172.20" x2="189.48" y2="1180.70" stroke="#000" stroke-width="1.3"/>
<line x1="195.80" y1="1172.20" x2="195.80" y2="1180.70" stroke="#000" stroke-width="1.3"/>
<line x1="201.14" y1="1172.20" x2="201.14" y2="1180.70" stroke="#000" stroke-width="1.3"/>
<line x1="205.77" y1="1172.20" x2="205.77" y2="1180.70" stroke="#000" stroke-width="1.3"/>
<line x1="209.85" y1="1172.20" x2="209.85" y2="1180.70" stroke="#000" stroke-width="1.3"/>
<line x1="213.50" y1="1172.20" x2="213.50" y2="1189.00" stroke="#000" stroke-width="1.4"/>
<line x1="237.52" y1="1172.20" x2="237.52" y2="1180.70" stroke="#000" stroke-width="1.3"/>
<line x1="251.56" y1="1172.20" x2="251.56" y2="1180.70" stroke="#000" stroke-width="1.3"/>
<line x1="261.53" y1="1172.20" x2="261.53" y2="1180.70" stroke="#000" stroke-width="1.3"/>
<line x1="269.26" y1="1172.20" x2="269.26" y2="1180.70" stroke="#000" stroke-width="1.3"/>
<line x1="275.58" y1="1172.20" x2="275.58" y2="1180.70" stroke="#000" stroke-width="1.3"/>
<line x1="280.92" y1="1172.20" x2="280.92" y2="1180.70" stroke="#000" stroke-width="1.3"/>
<line x1="285.55" y1="1172.20" x2="285.55" y2="1180.70" stroke="#000" stroke-width="1.3"/>
<line x1="289.63" y1="1172.20" x2="289.63" y2="1180.70" stroke="#000" stroke-width="1.3"/>
<line x1="293.28" y1="1172.20" x2="293.28" y2="1189.00" stroke="#000" stroke-width="1.4"/>
<line x1="317.30" y1="1172.20" x2="317.30" y2="1180.70" stroke="#000" stroke-width="1.3"/>
<line x1="331.34" y1="1172.20" x2="331.34" y2="1180.70" stroke="#000" stroke-width="1.3"/>
<line x1="341.31" y1="1172.20" x2="341.31" y2="1180.70" stroke="#000" stroke-width="1.3"/>
<line x1="349.04" y1="1172.20" x2="349.04" y2="1180.70" stroke="#000" stroke-width="1.3"/>
<line x1="355.36" y1="1172.20" x2="355.36" y2="1180.70" stroke="#000" stroke-width="1.3"/>
<line x1="360.70" y1="1172.20" x2="360.70" y2="1180.70" stroke="#000" stroke-width="1.3"/>
<line x1="365.33" y1="1172.20" x2="365.33" y2="1180.70" stroke="#000" stroke-width="1.3"/>
<line x1="369.41" y1="1172.20" x2="369.41" y2="1180.70" stroke="#000" stroke-width="1.3"/>
<line x1="373.06" y1="1172.20" x2="373.06" y2="1189.00" stroke="#000" stroke-width="1.4"/>
<line x1="397.08" y1="1172.20" x2="397.08" y2="1180.70" stroke="#000" stroke-width="1.3"/>
<line x1="411.12" y1="1172.20" x2="411.12" y2="1180.70" stroke="#000" stroke-width="1.3"/>
<line x1="421.09" y1="1172.20" x2="421.09" y2="1180.70" stroke="#000" stroke-width="1.3"/>
<line x1="428.82" y1="1172.20" x2="428.82" y2="1180.70" stroke="#000" stroke-width="1.3"/>
<line x1="435.14" y1="1172.20" x2="435.14" y2="1180.70" stroke="#000" stroke-width="1.3"/>
<line x1="440.48" y1="1172.20" x2="440.48" y2="1180.70" stroke="#000" stroke-width="1.3"/>
<line x1="445.11" y1="1172.20" x2="445.11" y2="1180.70" stroke="#000" stroke-width="1.3"/>
<line x1="449.19" y1="1172.20" x2="449.19" y2="1180.70" stroke="#000" stroke-width="1.3"/>
<line x1="452.84" y1="1172.20" x2="452.84" y2="1189.00" stroke="#000" stroke-width="1.4"/>
<line x1="476.86" y1="1172.20" x2="476.86" y2="1180.70" stroke="#000" stroke-width="1.3"/>
<line x1="490.90" y1="1172.20" x2="490.90" y2="1180.70" stroke="#000" stroke-width="1.3"/>
<line x1="500.87" y1="1172.20" x2="500.87" y2="1180.70" stroke="#000" stroke-width="1.3"/>
<text transform="translate(133.60,1213.00) scale(0.98,1)" font-size="19.6" text-anchor="middle" font-weight="normal" stroke="#000" stroke-width="0.5">0</text>
<text transform="translate(213.60,1213.00) scale(0.98,1)" font-size="19.6" text-anchor="middle" font-weight="normal" stroke="#000" stroke-width="0.5">0.01</text>
<text transform="translate(294.00,1213.00) scale(0.98,1)" font-size="19.6" text-anchor="middle" font-weight="normal" stroke="#000" stroke-width="0.5">0.1</text>
<text transform="translate(375.00,1213.00) scale(0.98,1)" font-size="19.6" text-anchor="middle" font-weight="normal" stroke="#000" stroke-width="0.5">1</text>
<text transform="translate(453.50,1213.00) scale(0.98,1)" font-size="19.6" text-anchor="middle" font-weight="normal" stroke="#000" stroke-width="0.5">10</text>
<text transform="translate(317.60,1250.10) scale(1.05,1)" font-size="25.6" text-anchor="middle" font-weight="normal" stroke="#000" stroke-width="0.65">G-CSF (ng/mL)</text>
</g>
<text transform="translate(11.70,841.60) scale(0.98,1)" font-size="27" text-anchor="start" font-weight="bold" stroke="#000" stroke-width="0.3">C</text>
<line x1="156.70" y1="1185.20" x2="163.50" y2="1161.50" stroke="#000" stroke-width="1.3"/>
<line x1="162.20" y1="1185.20" x2="169.00" y2="1161.50" stroke="#000" stroke-width="1.3"/>
<line x1="154.60" y1="884.20" x2="163.80" y2="858.00" stroke="#000" stroke-width="1.3"/>
<line x1="160.60" y1="884.20" x2="169.80" y2="858.00" stroke="#000" stroke-width="1.3"/>
<path d="M133.0,1164.5L166.6,1163.3L169.4,1163.2L172.1,1163.1L174.8,1163.0L177.5,1162.9L180.3,1162.8L183.0,1162.7L185.7,1162.5L188.4,1162.4L191.2,1162.3L193.9,1162.1L196.6,1161.9L199.3,1161.7L202.1,1161.5L204.8,1161.3L207.5,1161.1L210.2,1160.8L213.0,1160.5L215.7,1160.3L218.4,1159.9L221.1,1159.6L223.9,1159.3L226.6,1158.9L229.3,1158.5L232.0,1158.0L234.8,1157.5L237.5,1157.0L240.2,1156.5L242.9,1155.9L245.7,1155.3L248.4,1154.6L251.1,1153.9L253.8,1153.2L256.6,1152.3L259.3,1151.5L262.0,1150.6L264.7,1149.6L267.5,1148.5L270.2,1147.4L272.9,1146.2L275.6,1144.9L278.4,1143.5L281.1,1142.1L283.8,1140.6L286.5,1138.9L289.3,1137.2L292.0,1135.4L294.7,1133.4L297.4,1131.4L300.2,1129.2L302.9,1126.9L305.6,1124.5L308.3,1122.0L311.1,1119.3L313.8,1116.5L316.5,1113.6L319.2,1110.5L322.0,1107.3L324.7,1103.9L327.4,1100.4L330.1,1096.8L332.9,1093.1L335.6,1089.2L338.3,1085.1L341.0,1081.0L343.8,1076.7L346.5,1072.4L349.2,1067.9L351.9,1063.3L354.7,1058.7L357.4,1053.9L360.1,1049.1L362.8,1044.3L365.6,1039.4L368.3,1034.4L371.0,1029.5L373.7,1024.5L376.5,1019.6L379.2,1014.7L381.9,1009.8L384.6,1005.0L387.4,1000.2L390.1,995.5L392.8,990.9L395.6,986.4L398.3,981.9L401.0,977.6L403.7,973.4L406.5,969.3L409.2,965.4L411.9,961.5L414.6,957.9L417.4,954.3L420.1,950.9L422.8,947.6L425.5,944.4L428.3,941.4L431.0,938.6L433.7,935.8L436.4,933.2L439.2,930.7L441.9,928.4L444.6,926.2L447.3,924.0L450.1,922.0L452.8,920.2L455.5,918.4L458.2,916.7L461.0,915.1L463.7,913.6L466.4,912.2L469.1,910.9L471.9,909.7L474.6,908.5L477.3,907.4L480.0,906.4L482.8,905.4L485.5,904.5L488.2,903.7L490.9,902.9" fill="none" stroke="#000" stroke-width="1.35" stroke-linejoin="round"/>
<path d="M133.0,1165.4L166.6,1164.5L169.4,1164.4L172.1,1164.3L174.8,1164.2L177.5,1164.1L180.3,1164.0L183.0,1163.9L185.7,1163.8L188.4,1163.7L191.2,1163.6L193.9,1163.4L196.6,1163.3L199.3,1163.1L202.1,1162.9L204.8,1162.8L207.5,1162.5L210.2,1162.3L213.0,1162.1L215.7,1161.8L218.4,1161.6L221.1,1161.3L223.9,1161.0L226.6,1160.6L229.3,1160.3L232.0,1159.9L234.8,1159.4L237.5,1159.0L240.2,1158.5L242.9,1158.0L245.7,1157.4L248.4,1156.8L251.1,1156.2L253.8,1155.5L256.6,1154.8L259.3,1154.0L262.0,1153.1L264.7,1152.2L267.5,1151.2L270.2,1150.2L272.9,1149.1L275.6,1147.9L278.4,1146.7L281.1,1145.3L283.8,1143.9L286.5,1142.4L289.3,1140.8L292.0,1139.1L294.7,1137.3L297.4,1135.4L300.2,1133.4L302.9,1131.2L305.6,1129.0L308.3,1126.6L311.1,1124.1L313.8,1121.5L316.5,1118.7L319.2,1115.8L322.0,1112.8L324.7,1109.7L327.4,1106.4L330.1,1103.0L332.9,1099.5L335.6,1095.9L338.3,1092.1L341.0,1088.3L343.8,1084.3L346.5,1080.3L349.2,1076.1L351.9,1071.9L354.7,1067.6L357.4,1063.2L360.1,1058.8L362.8,1054.4L365.6,1049.9L368.3,1045.5L371.0,1041.0L373.7,1036.5L376.5,1032.1L379.2,1027.7L381.9,1023.4L384.6,1019.1L387.4,1014.9L390.1,1010.8L392.8,1006.8L395.6,1002.8L398.3,999.0L401.0,995.3L403.7,991.7L406.5,988.2L409.2,984.8L411.9,981.6L414.6,978.5L417.4,975.6L420.1,972.7L422.8,970.0L425.5,967.4L428.3,964.9L431.0,962.6L433.7,960.4L436.4,958.3L439.2,956.3L441.9,954.4L444.6,952.6L447.3,951.0L450.1,949.4L452.8,947.9L455.5,946.5L458.2,945.2L461.0,944.0L463.7,942.8L466.4,941.7L469.1,940.7L471.9,939.8L474.6,938.9L477.3,938.1L480.0,937.3L482.8,936.6L485.5,935.9L488.2,935.3L490.9,934.7" fill="none" stroke="#000" stroke-width="1.35" stroke-linejoin="round"/>
<path d="M133.0,1166.0L166.6,1165.1L169.4,1165.0L172.1,1164.9L174.8,1164.8L177.5,1164.7L180.3,1164.6L183.0,1164.5L185.7,1164.4L188.4,1164.3L191.2,1164.2L193.9,1164.0L196.6,1163.9L199.3,1163.7L202.1,1163.6L204.8,1163.4L207.5,1163.2L210.2,1163.0L213.0,1162.7L215.7,1162.5L218.4,1162.2L221.1,1162.0L223.9,1161.7L226.6,1161.3L229.3,1161.0L232.0,1160.6L234.8,1160.2L237.5,1159.8L240.2,1159.3L242.9,1158.8L245.7,1158.3L248.4,1157.8L251.1,1157.2L253.8,1156.5L256.6,1155.8L259.3,1155.1L262.0,1154.3L264.7,1153.5L267.5,1152.6L270.2,1151.7L272.9,1150.6L275.6,1149.6L278.4,1148.4L281.1,1147.2L283.8,1145.9L286.5,1144.5L289.3,1143.1L292.0,1141.5L294.7,1139.9L297.4,1138.2L300.2,1136.3L302.9,1134.4L305.6,1132.4L308.3,1130.2L311.1,1128.0L313.8,1125.6L316.5,1123.1L319.2,1120.6L322.0,1117.8L324.7,1115.0L327.4,1112.1L330.1,1109.0L332.9,1105.9L335.6,1102.6L338.3,1099.2L341.0,1095.7L343.8,1092.1L346.5,1088.4L349.2,1084.6L351.9,1080.8L354.7,1076.9L357.4,1072.9L360.1,1068.8L362.8,1064.7L365.6,1060.6L368.3,1056.5L371.0,1052.3L373.7,1048.1L376.5,1044.0L379.2,1039.8L381.9,1035.7L384.6,1031.6L387.4,1027.6L390.1,1023.7L392.8,1019.8L395.6,1015.9L398.3,1012.2L401.0,1008.6L403.7,1005.0L406.5,1001.6L409.2,998.2L411.9,995.0L414.6,991.9L417.4,988.9L420.1,986.0L422.8,983.3L425.5,980.6L428.3,978.1L431.0,975.7L433.7,973.3L436.4,971.1L439.2,969.1L441.9,967.1L444.6,965.2L447.3,963.4L450.1,961.7L452.8,960.1L455.5,958.6L458.2,957.2L461.0,955.9L463.7,954.6L466.4,953.4L469.1,952.3L471.9,951.3L474.6,950.3L477.3,949.4L480.0,948.5L482.8,947.7L485.5,947.0L488.2,946.3L490.9,945.6" fill="none" stroke="#000" stroke-width="2.7" stroke-linejoin="round"/>
<path d="M133.0,1166.7L166.6,1165.9L169.4,1165.8L172.1,1165.7L174.8,1165.6L177.5,1165.6L180.3,1165.5L183.0,1165.4L185.7,1165.3L188.4,1165.2L191.2,1165.1L193.9,1164.9L196.6,1164.8L199.3,1164.7L202.1,1164.5L204.8,1164.4L207.5,1164.2L210.2,1164.0L213.0,1163.8L215.7,1163.6L218.4,1163.3L221.1,1163.1L223.9,1162.8L226.6,1162.5L229.3,1162.2L232.0,1161.8L234.8,1161.4L237.5,1161.0L240.2,1160.6L242.9,1160.2L245.7,1159.7L248.4,1159.1L251.1,1158.6L253.8,1158.0L256.6,1157.3L259.3,1156.6L262.0,1155.9L264.7,1155.1L267.5,1154.2L270.2,1153.3L272.9,1152.4L275.6,1151.3L278.4,1150.2L281.1,1149.0L283.8,1147.8L286.5,1146.4L289.3,1145.0L292.0,1143.5L294.7,1141.9L297.4,1140.2L300.2,1138.4L302.9,1136.4L305.6,1134.4L308.3,1132.3L311.1,1130.0L313.8,1127.7L316.5,1125.2L319.2,1122.6L322.0,1119.9L324.7,1117.0L327.4,1114.1L330.1,1111.0L332.9,1107.8L335.6,1104.4L338.3,1101.0L341.0,1097.4L343.8,1093.8L346.5,1090.0L349.2,1086.1L351.9,1082.2L354.7,1078.2L357.4,1074.1L360.1,1070.0L362.8,1065.8L365.6,1061.6L368.3,1057.3L371.0,1053.1L373.7,1048.8L376.5,1044.6L379.2,1040.4L381.9,1036.2L384.6,1032.0L387.4,1027.9L390.1,1023.9L392.8,1020.0L395.6,1016.1L398.3,1012.4L401.0,1008.7L403.7,1005.2L406.5,1001.7L409.2,998.4L411.9,995.2L414.6,992.1L417.4,989.1L420.1,986.3L422.8,983.6L425.5,981.0L428.3,978.5L431.0,976.1L433.7,973.9L436.4,971.8L439.2,969.7L441.9,967.8L444.6,966.0L447.3,964.3L450.1,962.7L452.8,961.2L455.5,959.8L458.2,958.4L461.0,957.2L463.7,956.0L466.4,954.9L469.1,953.9L471.9,952.9L474.6,952.0L477.3,951.1L480.0,950.3L482.8,949.6L485.5,948.9L488.2,948.2L490.9,947.6" fill="none" stroke="#000" stroke-width="1.35" stroke-linejoin="round"/>
<path d="M133.0,1167.0L166.6,1166.7L169.4,1166.6L172.1,1166.6L174.8,1166.6L177.5,1166.5L180.3,1166.5L183.0,1166.4L185.7,1166.4L188.4,1166.3L191.2,1166.2L193.9,1166.2L196.6,1166.1L199.3,1166.0L202.1,1165.9L204.8,1165.8L207.5,1165.7L210.2,1165.6L213.0,1165.5L215.7,1165.3L218.4,1165.2L221.1,1165.0L223.9,1164.8L226.6,1164.6L229.3,1164.4L232.0,1164.1L234.8,1163.8L237.5,1163.5L240.2,1163.2L242.9,1162.9L245.7,1162.5L248.4,1162.1L251.1,1161.6L253.8,1161.1L256.6,1160.6L259.3,1160.0L262.0,1159.4L264.7,1158.7L267.5,1157.9L270.2,1157.1L272.9,1156.2L275.6,1155.3L278.4,1154.2L281.1,1153.1L283.8,1151.9L286.5,1150.6L289.3,1149.2L292.0,1147.7L294.7,1146.0L297.4,1144.3L300.2,1142.4L302.9,1140.4L305.6,1138.3L308.3,1136.0L311.1,1133.6L313.8,1131.0L316.5,1128.3L319.2,1125.4L322.0,1122.4L324.7,1119.2L327.4,1115.9L330.1,1112.5L332.9,1108.9L335.6,1105.2L338.3,1101.4L341.0,1097.5L343.8,1093.4L346.5,1089.3L349.2,1085.2L351.9,1081.0L354.7,1076.7L357.4,1072.5L360.1,1068.2L362.8,1064.0L365.6,1059.8L368.3,1055.6L371.0,1051.6L373.7,1047.6L376.5,1043.7L379.2,1039.9L381.9,1036.2L384.6,1032.7L387.4,1029.3L390.1,1026.0L392.8,1022.9L395.6,1019.9L398.3,1017.1L401.0,1014.4L403.7,1011.9L406.5,1009.5L409.2,1007.3L411.9,1005.2L414.6,1003.2L417.4,1001.4L420.1,999.7L422.8,998.1L425.5,996.6L428.3,995.2L431.0,993.9L433.7,992.7L436.4,991.6L439.2,990.6L441.9,989.7L444.6,988.8L447.3,988.0L450.1,987.3L452.8,986.6L455.5,986.0L458.2,985.4L461.0,984.9L463.7,984.4L466.4,984.0L469.1,983.6L471.9,983.2L474.6,982.9L477.3,982.6L480.0,982.3L482.8,982.0L485.5,981.8L488.2,981.6L490.9,981.4" fill="none" stroke="#000" stroke-width="1.35" stroke-linejoin="round"/>
<path d="M133.0,1167.9L166.6,1167.7L169.4,1167.6L172.1,1167.6L174.8,1167.6L177.5,1167.5L180.3,1167.5L183.0,1167.5L185.7,1167.4L188.4,1167.4L191.2,1167.3L193.9,1167.2L196.6,1167.2L199.3,1167.1L202.1,1167.0L204.8,1166.9L207.5,1166.8L210.2,1166.7L213.0,1166.6L215.7,1166.5L218.4,1166.4L221.1,1166.2L223.9,1166.1L226.6,1165.9L229.3,1165.7L232.0,1165.5L234.8,1165.3L237.5,1165.0L240.2,1164.7L242.9,1164.4L245.7,1164.1L248.4,1163.7L251.1,1163.4L253.8,1162.9L256.6,1162.5L259.3,1162.0L262.0,1161.4L264.7,1160.8L267.5,1160.2L270.2,1159.5L272.9,1158.7L275.6,1157.9L278.4,1157.0L281.1,1156.0L283.8,1154.9L286.5,1153.8L289.3,1152.6L292.0,1151.2L294.7,1149.8L297.4,1148.3L300.2,1146.6L302.9,1144.9L305.6,1143.0L308.3,1140.9L311.1,1138.8L313.8,1136.5L316.5,1134.0L319.2,1131.5L322.0,1128.7L324.7,1125.9L327.4,1122.8L330.1,1119.7L332.9,1116.4L335.6,1112.9L338.3,1109.4L341.0,1105.7L343.8,1101.9L346.5,1098.0L349.2,1094.0L351.9,1090.0L354.7,1085.9L357.4,1081.7L360.1,1077.6L362.8,1073.4L365.6,1069.2L368.3,1065.1L371.0,1061.0L373.7,1057.0L376.5,1053.0L379.2,1049.2L381.9,1045.4L384.6,1041.7L387.4,1038.2L390.1,1034.8L392.8,1031.5L395.6,1028.4L398.3,1025.4L401.0,1022.6L403.7,1019.9L406.5,1017.3L409.2,1014.9L411.9,1012.6L414.6,1010.5L417.4,1008.5L420.1,1006.7L422.8,1004.9L425.5,1003.3L428.3,1001.8L431.0,1000.4L433.7,999.1L436.4,997.8L439.2,996.7L441.9,995.7L444.6,994.7L447.3,993.8L450.1,993.0L452.8,992.3L455.5,991.6L458.2,991.0L461.0,990.4L463.7,989.8L466.4,989.3L469.1,988.9L471.9,988.5L474.6,988.1L477.3,987.7L480.0,987.4L482.8,987.1L485.5,986.8L488.2,986.6L490.9,986.4" fill="none" stroke="#000" stroke-width="1.35" stroke-linejoin="round"/>
<path d="M133.0,1170.2L166.6,1169.9L169.4,1169.9L172.1,1169.9L174.8,1169.8L177.5,1169.8L180.3,1169.8L183.0,1169.7L185.7,1169.7L188.4,1169.7L191.2,1169.6L193.9,1169.6L196.6,1169.5L199.3,1169.5L202.1,1169.4L204.8,1169.3L207.5,1169.2L210.2,1169.2L213.0,1169.1L215.7,1169.0L218.4,1168.9L221.1,1168.7L223.9,1168.6L226.6,1168.5L229.3,1168.3L232.0,1168.2L234.8,1168.0L237.5,1167.8L240.2,1167.6L242.9,1167.3L245.7,1167.1L248.4,1166.8L251.1,1166.5L253.8,1166.2L256.6,1165.9L259.3,1165.5L262.0,1165.1L264.7,1164.6L267.5,1164.1L270.2,1163.6L272.9,1163.0L275.6,1162.4L278.4,1161.7L281.1,1161.0L283.8,1160.2L286.5,1159.4L289.3,1158.5L292.0,1157.5L294.7,1156.4L297.4,1155.3L300.2,1154.0L302.9,1152.7L305.6,1151.3L308.3,1149.8L311.1,1148.1L313.8,1146.4L316.5,1144.5L319.2,1142.6L322.0,1140.5L324.7,1138.2L327.4,1135.9L330.1,1133.4L332.9,1130.8L335.6,1128.0L338.3,1125.2L341.0,1122.2L343.8,1119.0L346.5,1115.8L349.2,1112.4L351.9,1108.9L354.7,1105.3L357.4,1101.6L360.1,1097.9L362.8,1094.0L365.6,1090.1L368.3,1086.2L371.0,1082.3L373.7,1078.3L376.5,1074.3L379.2,1070.4L381.9,1066.4L384.6,1062.6L387.4,1058.7L390.1,1055.0L392.8,1051.3L395.6,1047.8L398.3,1044.3L401.0,1040.9L403.7,1037.7L406.5,1034.6L409.2,1031.6L411.9,1028.7L414.6,1026.0L417.4,1023.4L420.1,1021.0L422.8,1018.6L425.5,1016.4L428.3,1014.4L431.0,1012.4L433.7,1010.6L436.4,1008.9L439.2,1007.3L441.9,1005.8L444.6,1004.3L447.3,1003.0L450.1,1001.8L452.8,1000.7L455.5,999.6L458.2,998.7L461.0,997.8L463.7,996.9L466.4,996.2L469.1,995.4L471.9,994.8L474.6,994.2L477.3,993.6L480.0,993.1L482.8,992.6L485.5,992.2L488.2,991.8L490.9,991.4" fill="none" stroke="#000" stroke-width="1.35" stroke-linejoin="round"/>
<path d="M132.8,1170.2L139.7,1158.4L125.9,1158.4Z" fill="#fff" stroke="#000" stroke-width="1.8" stroke-linejoin="miter"/>
<path d="M182.9,1167.0L189.8,1155.2L176.0,1155.2Z" fill="#fff" stroke="#000" stroke-width="1.8" stroke-linejoin="miter"/>
<path d="M214.5,1164.8L221.4,1153.0L207.6,1153.0Z" fill="#fff" stroke="#000" stroke-width="1.8" stroke-linejoin="miter"/>
<path d="M262.4,1153.4L269.3,1141.6L255.5,1141.6Z" fill="#fff" stroke="#000" stroke-width="1.8" stroke-linejoin="miter"/>
<path d="M294.0,1130.7L300.9,1118.9L287.1,1118.9Z" fill="#fff" stroke="#000" stroke-width="1.8" stroke-linejoin="miter"/>
<path d="M341.9,1068.7L348.8,1056.9L335.0,1056.9Z" fill="#fff" stroke="#000" stroke-width="1.8" stroke-linejoin="miter"/>
<path d="M376.8,1025.9L383.7,1014.1L369.9,1014.1Z" fill="#fff" stroke="#000" stroke-width="1.8" stroke-linejoin="miter"/>
<path d="M414.7,962.2L421.6,950.4L407.8,950.4Z" fill="#fff" stroke="#000" stroke-width="1.8" stroke-linejoin="miter"/>
<path d="M453.0,924.6L459.9,912.8L446.1,912.8Z" fill="#fff" stroke="#000" stroke-width="1.8" stroke-linejoin="miter"/>
<path d="M490.9,910.2L497.8,898.4L484.0,898.4Z" fill="#fff" stroke="#000" stroke-width="1.8" stroke-linejoin="miter"/>
<ellipse cx="132.8" cy="1165.0" rx="5.95" ry="5.7" fill="#fff" stroke="#000" stroke-width="1.9"/>
<ellipse cx="182.9" cy="1163.0" rx="5.95" ry="5.7" fill="#fff" stroke="#000" stroke-width="1.9"/>
<ellipse cx="214.5" cy="1163.0" rx="5.95" ry="5.7" fill="#fff" stroke="#000" stroke-width="1.9"/>
<ellipse cx="262.4" cy="1152.0" rx="5.95" ry="5.7" fill="#fff" stroke="#000" stroke-width="1.9"/>
<ellipse cx="294.0" cy="1136.0" rx="5.95" ry="5.7" fill="#fff" stroke="#000" stroke-width="1.9"/>
<ellipse cx="341.9" cy="1088.0" rx="5.95" ry="5.7" fill="#fff" stroke="#000" stroke-width="1.9"/>
<ellipse cx="376.8" cy="1037.5" rx="5.95" ry="5.7" fill="#fff" stroke="#000" stroke-width="1.9"/>
<ellipse cx="414.7" cy="993.7" rx="5.95" ry="5.7" fill="#fff" stroke="#000" stroke-width="1.9"/>
<ellipse cx="453.0" cy="964.5" rx="5.95" ry="5.7" fill="#fff" stroke="#000" stroke-width="1.9"/>
<ellipse cx="490.9" cy="943.5" rx="5.95" ry="5.7" fill="#fff" stroke="#000" stroke-width="1.9"/>
<ellipse cx="132.8" cy="1167.0" rx="6.6" ry="6.3" fill="#000"/>
<ellipse cx="182.9" cy="1166.5" rx="6.6" ry="6.3" fill="#000"/>
<ellipse cx="214.5" cy="1166.5" rx="6.6" ry="6.3" fill="#000"/>
<ellipse cx="262.4" cy="1158.0" rx="6.6" ry="6.3" fill="#000"/>
<ellipse cx="294.0" cy="1145.0" rx="6.6" ry="6.3" fill="#000"/>
<ellipse cx="341.9" cy="1109.0" rx="6.6" ry="6.3" fill="#000"/>
<ellipse cx="376.8" cy="1072.9" rx="6.6" ry="6.3" fill="#000"/>
<ellipse cx="414.7" cy="1029.5" rx="6.6" ry="6.3" fill="#000"/>
<ellipse cx="453.0" cy="1009.0" rx="6.6" ry="6.3" fill="#000"/>
<ellipse cx="490.9" cy="993.0" rx="6.6" ry="6.3" fill="#000"/>
<path d="M132.8,1158.7L140.2,1166.0L132.8,1173.3L125.4,1166.0Z" fill="#000"/>
<path d="M182.9,1156.7L190.3,1164.0L182.9,1171.3L175.5,1164.0Z" fill="#000"/>
<path d="M214.5,1156.7L221.9,1164.0L214.5,1171.3L207.1,1164.0Z" fill="#000"/>
<path d="M262.4,1147.7L269.8,1155.0L262.4,1162.3L255.0,1155.0Z" fill="#000"/>
<path d="M294.0,1133.7L301.4,1141.0L294.0,1148.3L286.6,1141.0Z" fill="#000"/>
<path d="M341.9,1092.7L349.3,1100.0L341.9,1107.3L334.5,1100.0Z" fill="#000"/>
<path d="M376.8,1044.7L384.2,1052.0L376.8,1059.3L369.4,1052.0Z" fill="#000"/>
<path d="M414.7,998.0L422.1,1005.3L414.7,1012.6L407.3,1005.3Z" fill="#000"/>
<path d="M453.0,974.9L460.4,982.2L453.0,989.5L445.6,982.2Z" fill="#000"/>
<path d="M490.9,985.7L498.3,993.0L490.9,1000.3L483.5,993.0Z" fill="#000"/>
<path d="M262.4,1146.1L270.2,1159.6L254.6,1159.6Z" fill="#000"/>
<path d="M294.0,1131.1L301.8,1144.6L286.2,1144.6Z" fill="#000"/>
<path d="M341.9,1090.1L349.7,1103.6L334.1,1103.6Z" fill="#000"/>
<path d="M376.8,1042.1L384.6,1055.6L369.0,1055.6Z" fill="#000"/>
<path d="M414.7,993.1L422.5,1006.6L406.9,1006.6Z" fill="#000"/>
<path d="M453.0,998.1L460.8,1011.6L445.2,1011.6Z" fill="#000"/>
<path d="M490.9,960.7L498.7,974.2L483.1,974.2Z" fill="#000"/>
<rect x="127.0" y="1159.5" width="11.6" height="11" fill="#000"/>
<rect x="177.1" y="1158.0" width="11.6" height="11" fill="#000"/>
<rect x="208.7" y="1158.0" width="11.6" height="11" fill="#000"/>
<rect x="256.6" y="1145.5" width="11.6" height="11" fill="#000"/>
<rect x="288.2" y="1131.5" width="11.6" height="11" fill="#000"/>
<rect x="336.1" y="1088.5" width="11.6" height="11" fill="#000"/>
<rect x="371.0" y="1036.5" width="11.6" height="11" fill="#000"/>
<rect x="408.9" y="977.3" width="11.6" height="11" fill="#000"/>
<rect x="447.2" y="965.3" width="11.6" height="11" fill="#000"/>
<rect x="485.1" y="946.0" width="11.6" height="11" fill="#000"/>
<path d="M132.8,1170.5L140.6,1157.0L125.0,1157.0Z" fill="#000"/>
<path d="M182.9,1170.9L190.7,1157.4L175.1,1157.4Z" fill="#000"/>
<path d="M214.5,1170.9L222.3,1157.4L206.7,1157.4Z" fill="#000"/>
<path d="M262.4,1156.9L270.2,1143.4L254.6,1143.4Z" fill="#000"/>
<path d="M294.0,1138.9L301.8,1125.4L286.2,1125.4Z" fill="#000"/>
<path d="M341.9,1087.4L349.7,1073.9L334.1,1073.9Z" fill="#000"/>
<path d="M376.8,1037.9L384.6,1024.4L369.0,1024.4Z" fill="#000"/>
<path d="M414.7,976.9L422.5,963.4L406.9,963.4Z" fill="#000"/>
<path d="M453.0,963.9L460.8,950.4L445.2,950.4Z" fill="#000"/>
<path d="M490.9,941.7L498.7,928.2L483.1,928.2Z" fill="#000"/>
</svg>
</body></html>
